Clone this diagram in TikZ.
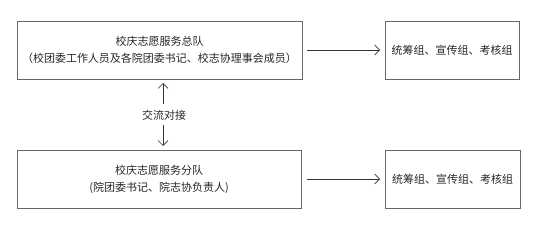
\documentclass[tikz,border=0pt]{standalone}
\usepackage{fontspec}
\setmainfont{Noto Sans CJK SC}
\usetikzlibrary{arrows.meta}
\begin{document}
\begin{tikzpicture}[x=1pt,y=-1pt,
  box/.style={draw=black!60,line width=0.9pt,minimum height=58pt,align=center,inner sep=0pt,font=\fontsize{11}{17}\selectfont,text=black!85},
  conn/.style={draw=black!80,line width=0.6pt,-{Straight Barb[length=5pt,width=10pt,line width=0.6pt]}}]
\useasboundingbox (0,0) rectangle (541,241);
\node[box,minimum width=285pt] (top) at (159.5,50) {校庆志愿服务总队\\（校团委工作人员及各院团委书记、校志协理事会成员）};
\node[box,minimum width=134pt] (topr) at (452,50) {统筹组、宣传组、考核组};
\node[box,minimum width=284pt] (bot) at (159,179) {校庆志愿服务分队\\(院团委书记、院志协负责人)};
\node[box,minimum width=135pt] (botr) at (452.5,179) {统筹组、宣传组、考核组};
\node[font=\fontsize{11}{12}\selectfont,text=black!85,inner sep=1pt] (lab) at (164,115) {交流对接};
\coordinate (ta) at (307,50);
\coordinate (tb) at (380,50);
\coordinate (ba) at (307,179);
\coordinate (bb) at (380,179);
\coordinate (u1) at (163,104);
\coordinate (u2) at (163,83);
\coordinate (d1) at (163,125);
\coordinate (d2) at (163,146);
\draw[conn] (ta) -- (tb);
\draw[conn] (ba) -- (bb);
\draw[conn] (u1) -- (u2);
\draw[conn] (d1) -- (d2);
\end{tikzpicture}
\end{document}
